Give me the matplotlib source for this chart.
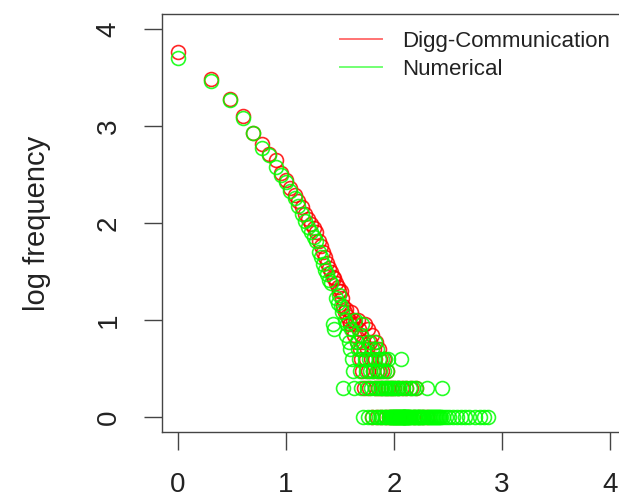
import numpy as np
import matplotlib
matplotlib.use("Agg")
import matplotlib.pyplot as plt

plt.rcParams["font.family"] = ["Liberation Sans", "DejaVu Sans"]

# Degree distributions: degree k and number of nodes with that degree
digg_degree = [1, 2, 3, 4, 5, 6, 7, 8, 9, 10, 11, 12, 13, 14, 15, 16, 17, 18, 19,
               20, 21, 22, 23, 24, 25, 26, 27, 28, 29, 30, 31, 32, 33, 34, 35, 36,
               37, 38, 39, 40, 41, 42, 43, 44, 45, 46, 47, 48, 49, 50, 51, 52, 53,
               54, 55, 56, 57, 58, 59, 60, 61, 62, 63, 64, 65, 66, 67, 68, 69, 70,
               71, 72, 73, 74, 75, 76, 78, 80, 82, 84, 86, 88, 90, 93, 96, 100, 104,
               108, 112, 118, 124, 130, 138, 145, 152, 160, 170, 185, 200]
digg_count = [5750, 3020, 1900, 1260, 850, 660, 520, 450, 330, 280, 230, 195, 170,
              145, 125, 110, 98, 88, 80, 66, 58, 50, 45, 39, 34, 31, 28, 27, 24, 22,
              20, 20, 17, 14, 12, 13, 11, 10, 9, 12, 8, 10, 7, 9, 6, 10, 8, 5, 4, 7,
              3, 6, 2, 9, 4, 5, 3, 8, 2, 6, 4, 7, 1, 3, 5, 2, 4, 6, 3, 1, 2, 5, 3, 4,
              1, 2, 3, 4, 2, 1, 3, 2, 1, 2, 1, 2, 1, 2, 1, 2, 1, 2, 1, 2, 1, 2, 1, 1, 1]

numerical_degree = [1, 2, 3, 4, 5, 6, 7, 8, 9, 10, 11, 12, 13, 14, 15, 16, 17, 18,
                    19, 20, 21, 22, 23, 24, 25, 26, 27, 28, 29, 30, 31, 32, 33, 34,
                    35, 36, 37, 38, 39, 40, 41, 42, 43, 44, 45, 46, 47, 48, 49, 50,
                    51, 52, 53, 54, 55, 56, 57, 58, 59, 60, 61, 62, 63, 64, 65, 66,
                    67, 68, 69, 70, 71, 72, 73, 74, 75, 76, 77, 78, 79, 80, 81, 82,
                    83, 84, 85, 86, 87, 88, 89,
                    90, 91, 92, 93, 94, 95, 96, 97, 98, 99, 100, 101, 102, 103, 104,
                    105, 106, 107, 108, 109, 110, 111, 112, 113, 114, 115, 116, 117,
                    118, 119, 120, 121, 122, 123, 124, 125, 126, 127, 128, 129, 130,
                    131, 132, 134, 136, 138, 140, 142, 144, 147, 150, 152, 154, 157,
                    160, 162, 164, 167, 171, 175, 179, 183, 187, 191, 196, 200, 205,
                    210, 214, 219, 224, 229, 234, 240, 245, 250, 256, 262, 268, 272,
                    276, 285, 300, 325, 350, 385, 415, 455, 500, 560, 620, 680, 741]
numerical_count = [5000, 2900, 1860, 1200, 850, 600, 500, 380, 310, 265, 215, 180,
                   150, 125, 105, 90, 80, 72, 66, 50, 45, 38, 33, 30, 26, 24, 9, 8,
                   17, 15, 18, 14, 12, 2, 10, 7, 9, 6, 5, 8, 4, 3, 2, 10, 6, 5, 4,
                   3, 2, 7, 9, 1, 5, 4, 3, 2, 6, 1, 4, 3, 2, 5, 1, 3, 4, 2, 6, 1, 5,
                   3, 2, 4, 1, 3, 2, 1, 4, 2, 1, 3, 2, 1, 4, 2, 1, 3, 2, 4, 1,
                   2, 1, 1, 2, 1, 1, 2, 1, 1, 1, 2, 1, 1, 1, 2,
                   1, 1, 1, 2, 1, 1, 1, 2, 1, 1, 1, 1, 4,
                   1, 1, 2, 1, 1, 1, 1, 1, 1, 1, 1, 1, 2,
                   1, 1, 1, 1, 1, 2, 1, 1, 1, 2, 1, 1, 1,
                   2, 1, 1, 1, 1, 1, 1, 1, 1, 1, 1, 2, 1,
                   1, 1, 1, 1, 1, 1, 1, 1, 1, 1, 1, 1, 1,
                   2, 1, 1, 1, 1, 1, 1, 1, 1, 1, 1, 1, 1]

series_names = ["Digg-Communication", "Numerical"]
series_colors = ["#ff0000", "#00ff00"]
x_ticks = [0, 1, 2, 3, 4]
y_ticks = [0, 1, 2, 3, 4]
y_title = "log frequency"

W, H = 619, 499
fig = plt.figure(figsize=(W / 100, H / 100), dpi=100)
# plot box: left edge at px 162, top at 14, bottom at 432; right edge runs past the canvas
ax = fig.add_axes([162 / W, (H - 432) / H, (640 - 162) / W, (432 - 14) / H])

for deg, cnt, col in zip([digg_degree, numerical_degree],
                         [digg_count, numerical_count], series_colors):
    ax.plot(np.log10(deg), np.log10(cnt), linestyle="none", marker="o",
            markersize=10, markerfacecolor="none", markeredgecolor=col,
            markeredgewidth=1.2, alpha=0.85)

# legend handles drawn as plain lines
handles = [plt.Line2D([], [], color=c, lw=1.4, alpha=0.55) for c in series_colors]
ax.legend(handles, series_names, loc="upper left",
          bbox_to_anchor=(340 / W, 1 - 31 / H), bbox_transform=fig.transFigure,
          frameon=False, fontsize=16, handlelength=1.9, handletextpad=0.9,
          labelspacing=0.3, borderpad=0, borderaxespad=0, labelcolor="#222222")

ax.set_xlim((162 - 178) / 108, (640 - 178) / 108)
ax.set_ylim((417 - 432) / 97, (417 - 14) / 97)

ax.set_xticks(x_ticks)
ax.set_yticks(y_ticks)
ax.set_xticklabels([str(t) for t in x_ticks])
ax.set_yticklabels([str(t) for t in y_ticks], rotation=90, va="center")
ax.tick_params(axis="both", direction="out", length=13, width=1.0,
               color="#444444", labelsize=20, labelcolor="#222222", pad=16)

for s in ax.spines.values():
    s.set_color("#444444")
    s.set_linewidth(1.0)

ax.set_ylabel(y_title, fontsize=21, color="#222222", labelpad=32)

fig.savefig("out.png", dpi=100)
